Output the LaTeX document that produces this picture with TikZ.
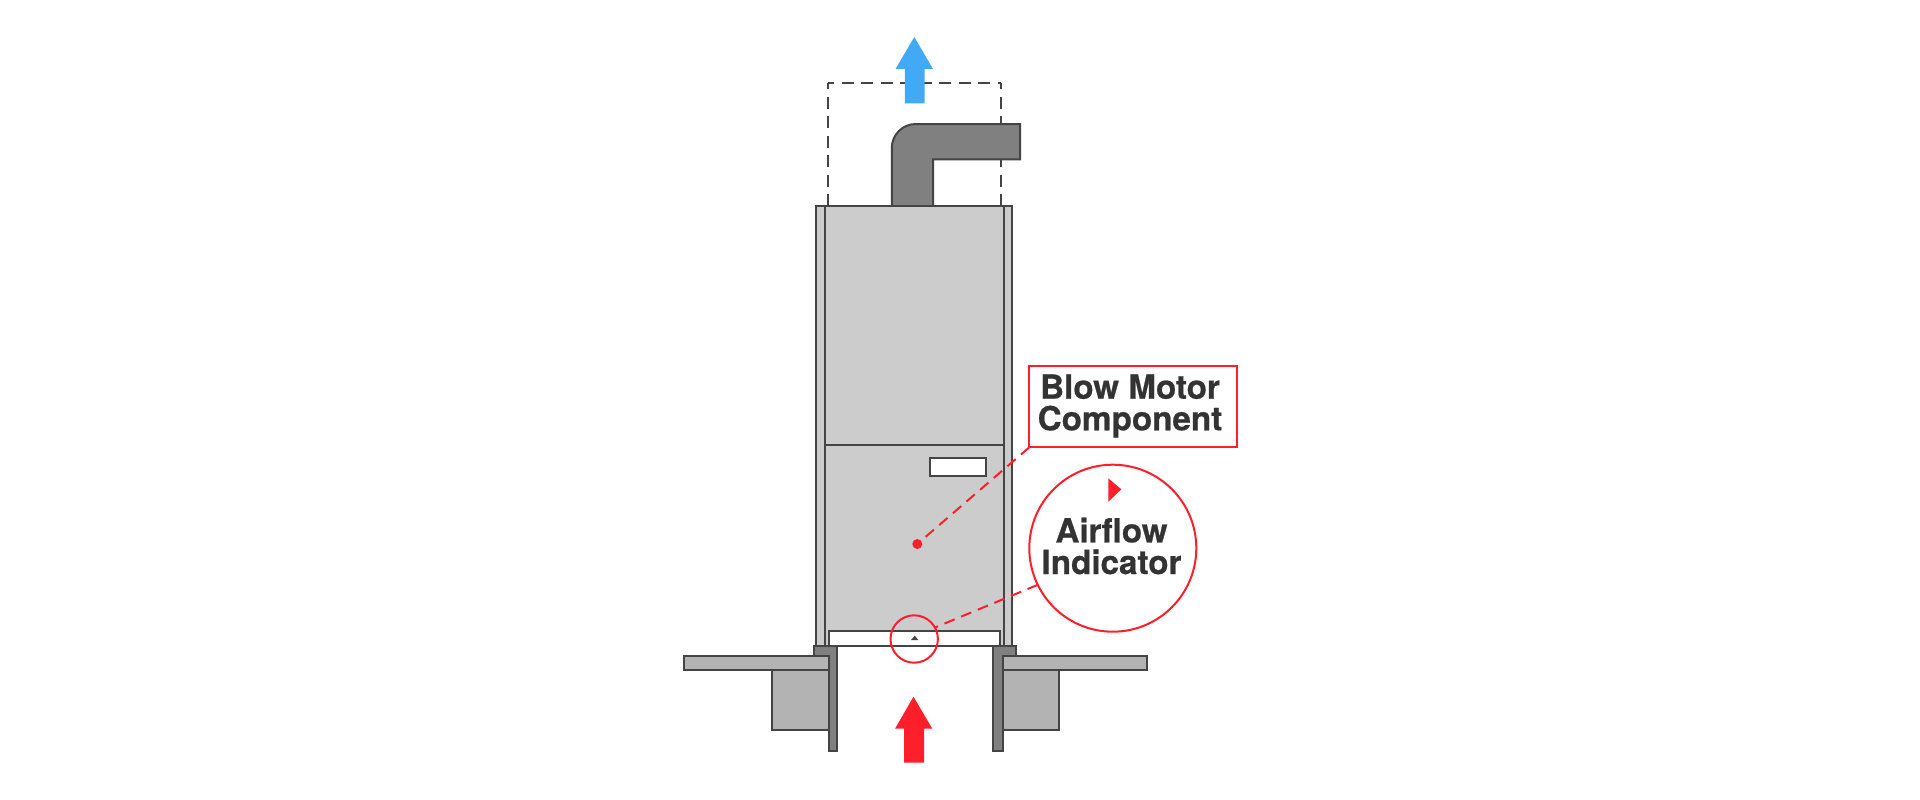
\documentclass[tikz,border=0pt]{standalone}
\usepackage{fontspec}
\setmainfont{Liberation Sans}
\newfontfamily\callfont[FakeBold=0.6]{TeX Gyre Heros Bold}
\definecolor{inkgray}{HTML}{444444}
\definecolor{txtgray}{HTML}{333333}
\definecolor{redc}{HTML}{FF1F2B}
\definecolor{bluec}{HTML}{42A9F7}
\definecolor{cab}{HTML}{CCCCCC}
\definecolor{duct}{HTML}{808080}
\definecolor{slab}{HTML}{B3B3B3}
\tikzset{
  part/.style={draw=inkgray,line width=2pt,line join=miter},
  dashrect/.style={draw=inkgray,line width=1.9pt,dash pattern=on 12pt off 7.5pt,dash phase=6pt},
  callline/.style={draw=redc,line width=2pt,dash pattern=on 11pt off 7pt},
  calltext/.style={text=txtgray,font=\fontsize{33.2}{31.6}\callfont,align=center,inner sep=0pt,outer sep=0pt},
  redframe/.style={draw=redc,line width=2pt,inner sep=0pt,outer sep=0pt}
}
\begin{document}
\begin{tikzpicture}[x=1pt,y=-1pt]
\useasboundingbox (0,0) rectangle (1920,800);
\fill[white] (0,0) rectangle (1920,800);
% dashed zone
\coordinate (dbl) at (828,206);
\coordinate (dtl) at (828,83.3);
\coordinate (dtr) at (1000.7,83.3);
\coordinate (dbr) at (1000.7,206);
\draw[dashrect] (dtl) -- (dbl) (dtl) -- (dtr) (dtr) -- (dbr);
% blue arrow
\fill[bluec] (914.3,37) -- (933,69) -- (924.5,69) -- (924.5,103.3) -- (904.9,103.3) -- (904.9,69) -- (895.5,69) -- cycle;
% duct
\draw[part,fill=duct] (891.8,206) -- (891.8,148) arc[start angle=180,end angle=270,radius=24] -- (1020,124) -- (1020,159.3) -- (933,159.3) -- (933,206) -- cycle;
% cabinet
\draw[part,fill=cab] (815.7,206) rectangle (1012.3,646);
\draw[part] (825,206) -- (825,646) (1004.3,206) -- (1004.3,646);
\draw[part] (825,445) -- (1004.3,445);
\draw[part,fill=white] (929.7,457.7) rectangle (985.7,475.7);
\draw[part,fill=white] (829.3,631) rectangle (1000,646.2);
\fill[inkgray] (911,640) -- (914.7,635.7) -- (918.3,640) -- cycle;
% curb and flanges
\draw[part,fill=slab] (772.3,670) rectangle (829,729.7);
\draw[part,fill=slab] (684,655.7) rectangle (829,670);
\draw[part,fill=slab] (1003,670) rectangle (1058.7,729.5);
\draw[part,fill=slab] (1003,655.7) rectangle (1146.7,670);
\draw[part,fill=duct] (813.7,646.2) -- (837,646.2) -- (837,751) -- (829,751) -- (829,655.7) -- (813.7,655.7) -- cycle;
\draw[part,fill=duct] (993,646.2) -- (1015.7,646.2) -- (1015.7,655.7) -- (1003,655.7) -- (1003,750.5) -- (993,750.5) -- cycle;
% red arrow
\fill[redc] (913.5,696.7) -- (932.3,728.7) -- (924,728.7) -- (924,762.7) -- (904,762.7) -- (904,728.7) -- (895,728.7) -- cycle;
% callouts
\node[redframe,fill=white,minimum width=207.4pt,minimum height=81.6pt] (blowbox) at (1133,406.5) {};
\node[calltext] (blowtext) at (1130,406) {Blow Motor\\Component};
\node[circle,fill=redc,inner sep=0pt,minimum size=10pt] (dot) at (917.3,544) {};
\draw[callline] (blowbox.south west) -- (dot);
\node[redframe,circle,minimum size=47.4pt] (smallring) at (914.2,639) {};
\node[redframe,circle,fill=white,minimum size=167pt] (bigring) at (1112.8,548.2) {};
\draw[callline] (bigring.206.9) -- (smallring.29.4);
\node[calltext] (airtext) at (1111.5,546) {Airflow\\Indicator};
\fill[redc] (1108.3,478.3) -- (1121.3,489.3) -- (1108.3,501.7) -- cycle;
\end{tikzpicture}
\end{document}
